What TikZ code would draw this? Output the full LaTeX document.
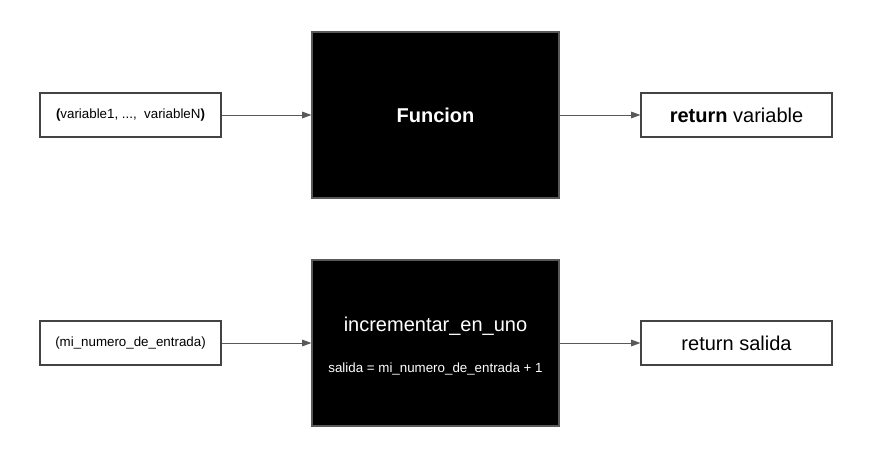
\documentclass[tikz,border=0pt]{standalone}
\usepackage{fontspec}
\setmainfont{Liberation Sans}
\usetikzlibrary{arrows.meta}

\definecolor{boxline}{RGB}{67,67,67}
\definecolor{arrowgray}{RGB}{89,89,89}

\tikzset{
  whitebox/.style={draw=boxline, line width=0.9pt, fill=white, inner sep=0pt, minimum height=33pt},
  blackbox/.style={draw=arrowgray, line width=0.9pt, fill=black, inner sep=0pt, minimum width=185.25pt, minimum height=124.5pt},
  conn/.style={draw=arrowgray, line width=0.75pt, -{Triangle[length=7pt,width=5pt]}}
}

\begin{document}
\begin{tikzpicture}[x=0.75pt,y=0.75pt,yscale=-1,xscale=1]
    \path (0,0) rectangle (880,471); %set diagram size

    %Shape: Rectangle [id:args]
    \node [whitebox, minimum width=135.75pt] (args) at (130.5,115) {};
    %Shape: Rectangle [id:funcion]
    \node [blackbox] (funcion) at (435.5,115) {};
    %Shape: Rectangle [id:retvar]
    \node [whitebox, minimum width=143.25pt] (retvar) at (736.5,115) {};

    %Shape: Rectangle [id:entrada]
    \node [whitebox, minimum width=135.75pt] (entrada) at (130.5,343) {};
    %Shape: Rectangle [id:incr]
    \node [blackbox] (incr) at (435.5,343) {};
    %Shape: Rectangle [id:retsal]
    \node [whitebox, minimum width=143.25pt] (retsal) at (736.5,343) {};

    %Straight Lines [id:args-funcion]
    \draw [conn] (args) -- (funcion) ;
    %Straight Lines [id:funcion-retvar]
    \draw [conn] (funcion) -- (retvar) ;
    %Straight Lines [id:entrada-incr]
    \draw [conn] (entrada) -- (incr) ;
    %Straight Lines [id:incr-retsal]
    \draw [conn] (incr) -- (retsal) ;

    % Text Node
    \node [inner sep=0.75pt, font=\fontsize{10}{12}\selectfont] (argstxt) at (args) {\textbf{(}variable1, ...,\ \ variableN\textbf{)}};
    % Text Node
    \node [inner sep=0.75pt, text=white, font=\fontsize{15}{18}\selectfont\bfseries] (funciontxt) at (funcion) {Funcion};
    % Text Node
    \node [inner sep=0.75pt, font=\fontsize{15}{18}\selectfont] (retvartxt) at (retvar) {\textbf{return} variable};
    % Text Node
    \node [inner sep=0.75pt, font=\fontsize{10}{12}\selectfont] (entradatxt) at (entrada) {(mi\_numero\_de\_entrada)};
    % Text Node
    \node [inner sep=0.75pt, text=white, font=\fontsize{15}{18}\selectfont] (incrtxt) at (435.5,326) {incrementar\_en\_uno};
    % Text Node
    \node [inner sep=0.75pt, text=white, font=\fontsize{10}{12}\selectfont] (incrbody) at (435.5,369) {salida = mi\_numero\_de\_entrada + 1};
    % Text Node
    \node [inner sep=0.75pt, font=\fontsize{15}{18}\selectfont] (retsaltxt) at (retsal) {return salida};

\end{tikzpicture}
\end{document}
